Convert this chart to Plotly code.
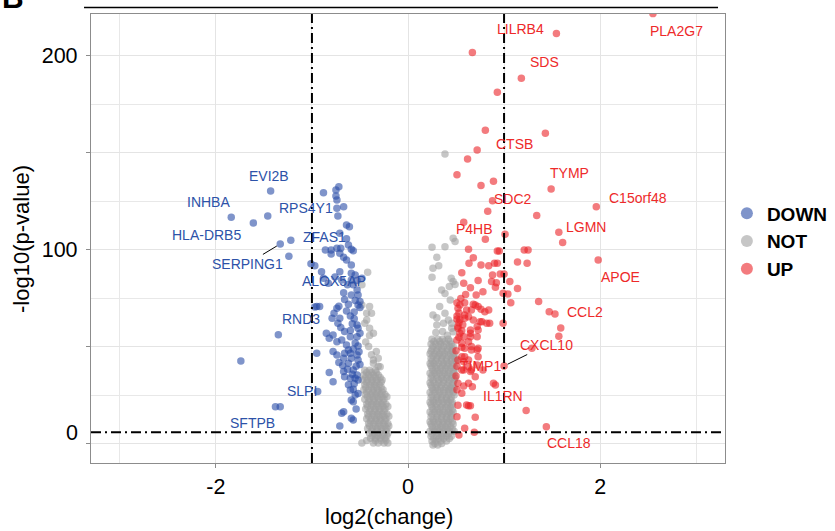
import plotly.graph_objects as go

# ---------------- data ----------------
down_points = [
    (-1.43, 130.4), (-1.84, 116.9), (-1.61, 113.9), (-1.46, 117.5), (-1.33, 103.1), (-1.22, 105.0),
    (-1.24, 96.8), (-1.01, 92.9), (-0.97, 91.9), (-0.88, 129.5), (-0.75, 130.9), (-0.72, 132.6),
    (-0.75, 127.8), (-0.74, 125.8), (-0.74, 121.5), (-0.67, 122.2), (-0.73, 117.5), (-0.64, 112.9),
    (-0.61, 112.0), (-0.71, 108.6), (-0.64, 105.8), (-0.62, 102.6), (-0.86, 100.0), (-0.80, 100.0),
    (-0.74, 100.9), (-0.70, 100.9), (-0.80, 97.9), (-0.71, 98.3), (-0.59, 100.4), (-0.57, 99.6),
    (-0.67, 96.2), (-0.64, 94.8), (-0.59, 92.3), (-0.90, 88.8), (-0.88, 85.4), (-0.83, 82.8),
    (-0.71, 88.8), (-0.59, 88.0), (-0.55, 87.1), (-0.59, 84.5), (-0.53, 84.2), (-0.48, 85.4),
    (-0.57, 82.0), (-0.53, 79.4), (-0.52, 76.8), (-0.59, 76.8), (-0.50, 73.4), (-0.52, 71.6),
    (-0.50, 70.3), (-0.95, 70.8), (-0.92, 70.8), (-0.97, 70.6), (-0.74, 69.9), (-0.77, 67.4),
    (-0.72, 71.0), (-0.71, 64.8), (-0.73, 62.2), (-0.79, 64.8), (-0.53, 61.3), (-0.52, 59.6),
    (-0.50, 57.1), (-0.53, 55.3), (-0.85, 57.1), (-0.82, 54.5), (-0.78, 56.2), (-0.74, 52.7),
    (-0.69, 53.6), (-0.60, 55.3), (-0.64, 51.0), (-0.62, 48.5), (-0.66, 46.8), (-0.60, 46.8),
    (-0.59, 44.2), (-0.78, 47.6), (-0.74, 45.9), (-0.67, 44.2), (-0.62, 41.6), (-0.53, 45.9),
    (-0.52, 43.3), (-0.95, 46.8), (-0.57, 38.1), (-0.53, 35.6), (-0.52, 33.0), (-0.55, 33.9),
    (-0.60, 33.9), (-0.67, 37.3), (-0.66, 34.7), (-0.82, 36.8), (-0.78, 32.1), (-0.94, 27.0),
    (-0.60, 27.8), (-0.57, 28.2), (-0.55, 25.3), (-0.59, 22.7), (-0.57, 21.8), (-0.69, 15.8),
    (-0.67, 16.6), (-0.59, 13.2), (-0.57, 12.4), (-0.71, 9.3), (-1.35, 56.3), (-1.74, 42.8),
    (-1.38, 19.2), (-1.33, 19.2), (-0.60, 66.0), (-0.56, 68.0), (-0.62, 72.0), (-0.58, 62.0),
    (-0.66, 58.0), (-0.70, 60.0), (-0.55, 52.0), (-0.57, 49.0), (-0.63, 38.5), (-0.68, 40.5),
    (-0.72, 42.0), (-0.56, 31.0), (-0.62, 30.5), (-0.52, 50.5), (-0.50, 41.0), (-0.51, 47.5),
    (-0.56, 64.5), (-0.64, 68.5), (-0.67, 78.0), (-0.63, 82.0), (-0.69, 84.5), (-0.76, 86.0),
    (-0.66, 74.5), (-0.55, 74.0), (-0.60, 58.5), (-0.54, 40.0), (-0.58, 36.0), (-0.52, 26.0),
    (-0.54, 18.0),
]

up_points = [
    (2.55, 221.8), (1.545, 211.5), (0.67, 201.7), (1.18, 188.5), (0.93, 181.3), (0.805, 161.7),
    (1.43, 160.1), (0.72, 151.5), (0.62, 146.9), (0.51, 138.7), (0.76, 133.2), (0.89, 135.4),
    (1.49, 131.4), (0.88, 125.3), (0.83, 119.9), (1.96, 122.3), (1.34, 117.7), (0.58, 114.3),
    (1.57, 109.1), (1.61, 103.8), (0.805, 105.5), (1.01, 108.1), (0.63, 100.4), (0.93, 99.5),
    (0.95, 99.5), (1.21, 100.0), (1.25, 100.0), (1.98, 94.8), (0.68, 96.0), (0.635, 93.1),
    (0.76, 92.3), (0.84, 91.9), (0.90, 93.1), (0.93, 93.1), (1.14, 93.8), (1.24, 93.1),
    (0.56, 88.3), (0.58, 82.8), (0.73, 84.2), (0.88, 87.1), (0.96, 87.6), (1.00, 87.6),
    (0.87, 83.7), (0.92, 83.1), (0.91, 80.8), (1.06, 83.7), (1.14, 80.1), (0.78, 78.5),
    (0.71, 76.8), (0.99, 77.7), (1.04, 77.3), (0.51, 72.8), (0.59, 72.8), (0.68, 72.0),
    (0.73, 70.8), (1.07, 72.8), (1.36, 73.4), (1.47, 68.2), (1.53, 67.0), (0.61, 69.1),
    (0.66, 69.1), (0.84, 69.1), (0.80, 68.2), (0.51, 64.3), (0.59, 64.8), (0.68, 63.9),
    (0.75, 63.0), (0.85, 62.2), (0.99, 62.2), (0.52, 59.6), (0.56, 58.4), (0.54, 57.1),
    (0.65, 58.8), (0.73, 58.8), (0.65, 55.3), (0.72, 55.3), (1.59, 59.8), (1.57, 55.5),
    (0.51, 53.6), (0.63, 52.7), (0.66, 50.2), (0.72, 48.5), (0.56, 49.8), (0.59, 45.0),
    (0.73, 45.0), (1.29, 49.3), (1.00, 40.2), (0.52, 43.3), (0.58, 42.4), (0.63, 39.8),
    (0.66, 38.1), (0.78, 38.1), (0.72, 40.7), (0.56, 38.1), (0.52, 31.3), (0.58, 29.9),
    (0.67, 29.5), (0.56, 26.1), (0.91, 30.4), (0.63, 19.7), (0.65, 19.7), (1.23, 17.2),
    (0.70, 13.8), (1.44, 8.9), (0.59, 8.1), (0.69, 6.0), (0.53, 4.6), (0.54, 71.6),
    (0.70, 71.6), (0.76, 69.5), (0.59, 66.5), (0.63, 65.6), (0.77, 63.0), (0.58, 55.3),
    (0.65, 57.1), (0.72, 60.5), (0.82, 62.2), (0.56, 51.9), (0.59, 49.3), (0.66, 48.5),
    (0.73, 49.3), (0.56, 45.0), (0.63, 43.3), (0.58, 38.1), (0.65, 37.3), (0.70, 34.7),
    (0.63, 31.3), (0.61, 20.1), (0.89, 31.3), (0.52, 60.5), (0.53, 62.5), (0.51, 66.0),
    (0.52, 70.0), (0.54, 64.0), (0.50, 48.0), (0.51, 40.0), (0.50, 35.0), (0.52, 20.0),
    (0.51, 14.0), (0.51, 28.0), (0.53, 67.5), (0.55, 75.0), (0.60, 77.0), (0.65, 80.5),
    (0.53, 55.0), (0.57, 61.5),
]

not_points_sparse = [
    (0.385, 149.5), (0.47, 106.0), (0.49, 104.3), (0.385, 101.7), (0.25, 101.4), (0.30, 96.2),
    (0.32, 91.8), (0.26, 90.6), (0.25, 85.9), (0.45, 85.4), (0.47, 83.7), (0.49, 82.2),
    (0.43, 81.1), (0.35, 79.4), (0.385, 77.5), (0.44, 74.2), (0.33, 70.8), (0.385, 67.4),
    (0.26, 66.5), (0.30, 65.0), (0.42, 63.9), (0.30, 61.3), (0.455, 59.6), (0.455, 62.2),
    (0.37, 62.2), (0.47, 57.9), (0.29, 57.5), (0.36, 58.0), (0.41, 56.0),
    (-0.42, 88.5), (-0.48, 82.0), (-0.40, 70.8), (-0.48, 71.6), (-0.43, 67.4), (-0.38, 67.4),
    (-0.45, 62.2), (-0.43, 63.9), (-0.40, 59.6), (-0.36, 57.1), (-0.40, 55.9), (-0.33, 47.6),
    (-0.41, 50.2), (-0.31, 44.2), (-0.36, 41.6), (-0.29, 39.8), (-0.36, 43.3), (-0.38, 46.0),
    (-0.44, 52.5),
]

# dense columns of non-significant genes: (p-value level, list of log2 changes)
not_rows_right = [
    (54.0, [0.25, 0.31, 0.36, 0.42]),
    (52.8, [0.27, 0.33, 0.38, 0.44]),
    (51.5, [0.24, 0.29, 0.34, 0.40, 0.45]),
    (50.3, [0.26, 0.32, 0.37, 0.43, 0.47]),
    (49.0, [0.25, 0.30, 0.35, 0.41, 0.46]),
    (47.8, [0.24, 0.30, 0.36, 0.41, 0.46]),
    (46.5, [0.23, 0.28, 0.33, 0.38, 0.44, 0.48]),
    (45.3, [0.26, 0.31, 0.36, 0.42, 0.47]),
    (44.0, [0.24, 0.30, 0.35, 0.40, 0.45, 0.49]),
    (42.8, [0.25, 0.29, 0.35, 0.40, 0.45, 0.50]),
    (41.5, [0.23, 0.27, 0.32, 0.37, 0.42, 0.47]),
    (40.3, [0.24, 0.30, 0.36, 0.41, 0.46]),
    (39.0, [0.25, 0.29, 0.34, 0.39, 0.44, 0.49]),
    (37.8, [0.26, 0.31, 0.36, 0.42, 0.47]),
    (36.5, [0.23, 0.28, 0.33, 0.38, 0.43, 0.48]),
    (35.3, [0.25, 0.30, 0.36, 0.41, 0.46]),
    (34.0, [0.24, 0.30, 0.35, 0.40, 0.45, 0.49]),
    (32.8, [0.26, 0.32, 0.37, 0.43, 0.48]),
    (31.5, [0.23, 0.27, 0.32, 0.37, 0.42, 0.47]),
    (30.3, [0.24, 0.30, 0.35, 0.41, 0.46]),
    (29.0, [0.25, 0.29, 0.34, 0.39, 0.44, 0.48]),
    (27.8, [0.26, 0.31, 0.37, 0.42, 0.46]),
    (26.5, [0.23, 0.28, 0.33, 0.38, 0.43, 0.47]),
    (25.3, [0.25, 0.31, 0.36, 0.42, 0.48]),
    (24.0, [0.24, 0.30, 0.35, 0.40, 0.45]),
    (22.8, [0.26, 0.30, 0.35, 0.40, 0.44]),
    (21.5, [0.23, 0.27, 0.32, 0.37, 0.42, 0.46]),
    (20.3, [0.24, 0.30, 0.36, 0.41, 0.46]),
    (19.0, [0.25, 0.29, 0.34, 0.39, 0.44]),
    (17.8, [0.26, 0.31, 0.36, 0.42, 0.46]),
    (16.5, [0.23, 0.28, 0.33, 0.38, 0.43, 0.47]),
    (15.3, [0.25, 0.31, 0.36, 0.41, 0.45]),
    (14.0, [0.24, 0.30, 0.35, 0.40, 0.45]),
    (12.8, [0.26, 0.30, 0.35, 0.40, 0.44]),
    (11.5, [0.23, 0.27, 0.32, 0.37, 0.42, 0.46]),
    (10.3, [0.24, 0.31, 0.36, 0.41, 0.47]),
    (9.0, [0.25, 0.29, 0.34, 0.39, 0.44]),
    (7.8, [0.26, 0.31, 0.36, 0.41, 0.46]),
    (6.5, [0.23, 0.28, 0.33, 0.38, 0.43, 0.48]),
    (5.3, [0.25, 0.32, 0.37, 0.42]),
    (4.0, [0.24, 0.30, 0.35, 0.40, 0.45]),
    (2.8, [0.27, 0.32, 0.37, 0.43]),
    (1.5, [0.25, 0.29, 0.34, 0.40]),
    (0.3, [0.28, 0.35]),
    (-0.5, [0.26, 0.31]),
]

not_rows_left = [
    (40.0, [-0.31]),
    (38.0, [-0.45, -0.40, -0.34]),
    (36.8, [-0.43, -0.38, -0.33]),
    (35.5, [-0.46, -0.41, -0.36, -0.31]),
    (34.3, [-0.44, -0.39, -0.34, -0.29]),
    (33.0, [-0.47, -0.42, -0.37, -0.32, -0.27]),
    (31.8, [-0.43, -0.38, -0.33, -0.28]),
    (30.5, [-0.45, -0.40, -0.35, -0.30]),
    (29.3, [-0.44, -0.38, -0.33, -0.28]),
    (28.0, [-0.46, -0.41, -0.36, -0.31, -0.26]),
    (26.8, [-0.43, -0.37, -0.32, -0.27]),
    (25.5, [-0.44, -0.39, -0.34, -0.29, -0.24]),
    (24.3, [-0.42, -0.37, -0.32, -0.27, -0.22]),
    (23.0, [-0.45, -0.40, -0.35, -0.30, -0.25]),
    (21.8, [-0.41, -0.36, -0.31, -0.26]),
    (20.5, [-0.43, -0.38, -0.33, -0.28, -0.23]),
    (19.3, [-0.42, -0.36, -0.31, -0.26, -0.21]),
    (18.0, [-0.44, -0.39, -0.34, -0.29, -0.24]),
    (16.8, [-0.40, -0.35, -0.30, -0.25]),
    (15.5, [-0.42, -0.37, -0.32, -0.27, -0.22]),
    (14.3, [-0.41, -0.35, -0.30, -0.25, -0.20]),
    (13.0, [-0.43, -0.38, -0.33, -0.28, -0.23]),
    (11.8, [-0.39, -0.34, -0.29, -0.24]),
    (10.5, [-0.41, -0.36, -0.31, -0.26, -0.21]),
    (9.3, [-0.40, -0.34, -0.29, -0.24, -0.20]),
    (8.0, [-0.42, -0.37, -0.32, -0.27, -0.22]),
    (6.8, [-0.38, -0.33, -0.28, -0.23]),
    (5.5, [-0.40, -0.35, -0.30, -0.25, -0.21]),
    (4.3, [-0.37, -0.32, -0.27, -0.22]),
    (3.0, [-0.39, -0.34, -0.29, -0.24]),
    (1.8, [-0.43, -0.34, -0.28, -0.23]),
    (0.5, [-0.48, -0.36, -0.31, -0.25, -0.21]),
]

# labelled genes: name, group, gene point (x, y)
label_genes = ["LILRB4", "PLA2G7", "SDS", "CTSB", "TYMP", "SDC2", "C15orf48", "P4HB", "LGMN",
               "APOE", "CCL2", "CXCL10", "TIMP1", "IL1RN", "CCL18",
               "EVI2B", "INHBA", "RPS4Y1", "HLA-DRB5", "ZFAS1", "SERPING1", "ALOX5AP", "RND3",
               "SLPI", "SFTPB"]
label_group = ["UP"] * 15 + ["DOWN"] * 10
label_point_x = [1.545, 2.55, 1.18, 1.43, 1.49, 0.88, 1.96, 0.58, 1.57, 1.98, 1.53, 1.00, 0.56,
                 0.91, 1.44, -1.43, -1.84, -0.88, -1.61, -0.86, -1.33, -0.74, -1.35, -0.94, -1.38]
label_point_y = [211.5, 221.8, 188.5, 160.1, 131.4, 125.3, 122.3, 114.3, 109.1, 94.8, 67.0, 40.2,
                 38.1, 30.4, 8.9, 130.4, 116.9, 129.5, 113.9, 100.0, 103.1, 84.5, 56.3, 27.0, 19.2]
# repelled label placement (centre of text, data units)
label_text_x = [1.172, 2.790, 1.422, 1.111, 1.684, 1.094, 2.394, 0.691, 1.852, 2.216, 1.841, 1.441,
                0.755, 0.990, 1.677, -1.448, -2.073, -1.057, -2.094, -0.870, -1.674, -0.766,
                -1.115, -1.104, -1.615]
label_text_y = [213.8, 213.0, 196.8, 154.6, 139.8, 126.3, 127.0, 111.0, 112.0, 85.9, 68.2, 51.0,
                40.2, 24.7, 0.4, 138.3, 124.9, 121.6, 107.7, 106.7, 92.8, 84.2, 64.4, 27.5, 10.7]
label_segment = ["CXCL10", "SERPING1"]

fc_cut = [-1, 1]
p_cut = 6.0

# ---------------- figure ----------------
FONT = "Liberation Sans, Arial, sans-serif"
colors = {"DOWN": "#2A4CA6", "NOT": "#A0A0A0", "UP": "#EB2328"}
text_colors = {"DOWN": "#2D52A8", "UP": "#EE2A2A"}

not_x = [p[0] for p in not_points_sparse]
not_y = [p[1] for p in not_points_sparse]
for yv, xs in not_rows_right + not_rows_left:
    not_x += xs
    not_y += [yv] * len(xs)

fig = go.Figure()
groups = [("NOT", not_x, not_y, 2),
          ("DOWN", [p[0] for p in down_points], [p[1] for p in down_points], 1),
          ("UP", [p[0] for p in up_points], [p[1] for p in up_points], 3)]
for name, xs, ys, rank in groups:
    fig.add_trace(go.Scatter(
        x=xs, y=ys, mode="markers", name=name, legendrank=rank,
        marker=dict(size=7.5, color=colors[name], opacity=0.6, line=dict(width=0)),
        cliponaxis=True,
    ))

annotations = []
for g, grp, px, py, tx, ty in zip(label_genes, label_group, label_point_x, label_point_y,
                                  label_text_x, label_text_y):
    if g in label_segment:
        annotations.append(dict(
            x=px, y=py, xref="x", yref="y", ax=tx, ay=ty, axref="x", ayref="y",
            text=g, showarrow=True, arrowhead=0, arrowwidth=1, arrowcolor="black",
            standoff=4, font=dict(family=FONT, size=14, color=text_colors[grp])))
    else:
        annotations.append(dict(
            x=tx, y=ty, xref="x", yref="y", text=g, showarrow=False,
            xanchor="center", yanchor="middle",
            font=dict(family=FONT, size=14, color=text_colors[grp])))

# axis titles and the shifted zero label
annotations += [
    dict(text="log2(change)", x=0.47, y=-0.12, xref="paper", yref="paper", showarrow=False,
         xanchor="center", yanchor="middle", font=dict(family=FONT, size=22, color="black")),
    dict(text="-log10(p-value)", x=-0.1088, y=0.499, xref="paper", yref="paper", showarrow=False,
         textangle=-90, xanchor="center", yanchor="middle",
         font=dict(family=FONT, size=22, color="black")),
    dict(text="0", x=0, y=5.9, xref="paper", yref="y", showarrow=False, xanchor="right",
         yanchor="middle", xshift=-11, font=dict(family=FONT, size=21.5, color="black")),
    dict(text="<b>B</b>", x=-0.1435, y=0.996, xref="paper", yref="paper", showarrow=False,
         xanchor="left", yanchor="bottom", font=dict(family=FONT, size=30, color="black")),
]

dash = "10px,4px,2px,4px"
shapes = [
    dict(type="line", xref="x", yref="paper", x0=fc_cut[0], x1=fc_cut[0], y0=0, y1=1,
         line=dict(color="black", width=2, dash=dash), layer="above"),
    dict(type="line", xref="x", yref="paper", x0=fc_cut[1], x1=fc_cut[1], y0=0, y1=1,
         line=dict(color="black", width=2, dash=dash), layer="above"),
    dict(type="line", xref="paper", yref="y", x0=0, x1=1, y0=p_cut, y1=p_cut,
         line=dict(color="black", width=2, dash=dash), layer="above"),
    dict(type="line", xref="paper", yref="paper", x0=-0.011, x1=0.989, y0=1.0145, y1=1.0145,
         line=dict(color="black", width=1.5)),
]

axis_common = dict(
    showline=True, mirror=True, linecolor="#8C8C8C", linewidth=1.3,
    ticks="outside", ticklen=4, tickwidth=1, tickcolor="#8C8C8C",
    showgrid=True, gridcolor="#E4E4E4", gridwidth=1, zeroline=False, automargin=False,
    tickfont=dict(family=FONT, size=21.5, color="black"),
)

fig.update_layout(
    width=835, height=531,
    margin=dict(l=91, r=110, t=14, b=68, autoexpand=False),
    paper_bgcolor="white", plot_bgcolor="white",
    font=dict(family=FONT, color="black"),
    xaxis=dict(range=[-3.3, 3.3], tickmode="array", tickvals=[-2, 0, 2], ticktext=["-2", "0", "2"],
               minor=dict(tickmode="array", tickvals=[-3, -1, 1, 3], showgrid=True,
                          gridcolor="#E8E8E8", ticks=""),
               **axis_common),
    yaxis=dict(range=[-9.8, 221.6], tickmode="array", tickvals=[0, 50, 100, 150, 200],
               ticktext=["", "", "100", "", "200"], ticklabelstandoff=4,
               minor=dict(tickmode="array", tickvals=[25, 75, 125, 175], showgrid=True,
                          gridcolor="#E8E8E8", ticks=""),
               **axis_common),
    legend=dict(x=1.003, y=0.598, xanchor="left", yanchor="top", bgcolor="rgba(0,0,0,0)",
                font=dict(family=FONT, size=19, color="black", weight="bold"),
                itemsizing="constant", traceorder="normal"),
    annotations=annotations,
    shapes=shapes,
    showlegend=True,
)

fig.write_html("out.html", config={"displayModeBar": False},
               post_script="document.body.style.margin='0px';document.body.style.overflow='hidden';")
